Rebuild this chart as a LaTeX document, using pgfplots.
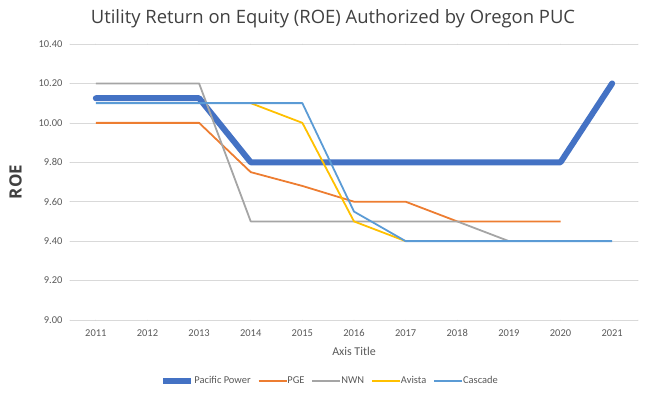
\documentclass[border=0pt]{standalone}
\usepackage{pgfplots}
\pgfplotsset{compat=1.18}
\usepackage{fontspec}
\setmainfont{Open Sans}
\newfontfamily\tickfont{Carlito}
\definecolor{cPP}{HTML}{4472C4}
\definecolor{cPGE}{HTML}{ED7D31}
\definecolor{cNWN}{HTML}{A5A5A5}
\definecolor{cAV}{HTML}{FFC000}
\definecolor{cCA}{HTML}{5B9BD5}
\definecolor{txt}{HTML}{595959}
\begin{document}
\begin{tikzpicture}
\begin{axis}[
  scale only axis, width=568bp, height=276bp,
  xmin=2010.5, xmax=2021.5, ymin=9, ymax=10.4,
  xtick={2011,...,2021}, ytick={9,9.2,...,10.41},
  xticklabel style={/pgf/number format/1000 sep={}},
  x tick label style={font=\tickfont\fontsize{10.5}{11}\selectfont, text=txt, yshift=-6bp},
  y tick label style={font=\tickfont\fontsize{10.5}{11}\selectfont, text=txt, /pgf/number format/fixed, /pgf/number format/fixed zerofill, /pgf/number format/precision=2, xshift=-4bp},
  /pgf/number format/assume math mode=true,
  major tick length=0pt,
  axis line style={draw=none},
  ymajorgrids, grid style={color=black!15, line width=0.7pt},
  title={Utility Return on Equity (ROE) Authorized by Oregon PUC},
  title style={font=\fontsize{18.5}{21}\selectfont, text=black!75, at={(0.463,1)}, yshift=7bp},
  xlabel={Axis Title},
  xlabel style={font=\tickfont\fontsize{12}{13}\selectfont, text=txt, yshift=-4bp},
  ylabel={\textbf{ROE}},
  ylabel style={font=\fontsize{17}{18}\selectfont, text=black!75, yshift=10bp},
  legend columns=-1,
  legend style={draw=none, at={(0.458,-0.221)}, anchor=center, font=\tickfont\fontsize{10.5}{11}\selectfont, text=txt, /tikz/every even column/.append style={column sep=5bp}, /tikz/every odd column/.append style={column sep=-2bp}},
  legend image code/.code={\draw[#1] (0bp,0bp) -- (28bp,0bp);},
  line join=round, line cap=round,
]
\addplot[color=cPP, line width=6pt] coordinates {(2011,10.125) (2012,10.125) (2013,10.125) (2014,9.8) (2015,9.8) (2016,9.8) (2017,9.8) (2018,9.8) (2019,9.8) (2020,9.8) (2021,10.2)};
\addlegendentry{Pacific Power}
\addplot[color=cPGE, line width=1.8pt, line cap=butt] coordinates {(2011,10.0) (2012,10.0) (2013,10.0) (2014,9.75) (2015,9.68) (2016,9.6) (2017,9.6) (2018,9.5) (2019,9.5) (2020,9.5)};
\addlegendentry{PGE}
\addplot[color=cNWN, line width=1.8pt, line cap=butt] coordinates {(2011,10.2) (2012,10.2) (2013,10.2) (2014,9.5) (2015,9.5) (2016,9.5) (2017,9.5) (2018,9.5) (2019,9.4)};
\addlegendentry{NWN}
\addplot[color=cAV, line width=1.8pt, line cap=butt] coordinates {(2014,10.1) (2015,10.0) (2016,9.5) (2017,9.4)};
\addlegendentry{Avista}
\addplot[color=cCA, line width=1.8pt, line cap=butt] coordinates {(2011,10.1) (2012,10.1) (2013,10.1) (2014,10.1) (2015,10.1) (2016,9.55) (2017,9.4) (2018,9.4) (2019,9.4) (2020,9.4) (2021,9.4)};
\addlegendentry{Cascade}
\end{axis}
\path[use as bounding box] (-70bp,-77bp) rectangle (580bp,320bp);
\end{tikzpicture}
\end{document}
